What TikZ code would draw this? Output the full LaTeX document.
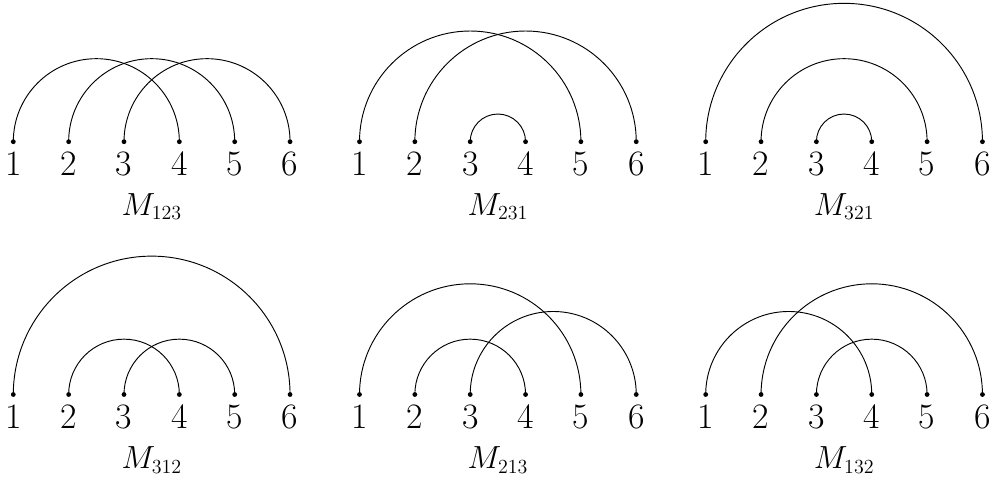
\RequirePackage{fix-cm}
\documentclass[tikz,border=0pt]{standalone}
\usetikzlibrary{calc}
\DeclareMathSizes{24}{24}{15}{12}
\newcommand\chordarc[2]{\draw[chord] let \p1=(#1.center),\p2=(#2.center) in (#1.center) arc[start angle=180,end angle=0,radius={0.5*(\x2-\x1)}];}
\begin{document}
\begin{tikzpicture}[x=0.75pt,y=0.75pt,
  dot/.style={circle,fill=black,inner sep=0pt,minimum size=3.6pt},
  num/.style={anchor=base,inner sep=0pt,font=\fontsize{26.8}{30}\selectfont},
  lab/.style={anchor=base,inner sep=0pt,font=\fontsize{24}{28}\selectfont},
  chord/.style={line width=0.7pt}]
\useasboundingbox (0,0) rectangle (993,-483);
\foreach \pn/\col/\row in {a/0/0, b/1/0, c/2/0, d/0/1, e/1/1, f/2/1} {
  \foreach \i in {1,...,6} {
    \node[dot] (\pn\i) at ({13.3+55.35*(\i-1)+346.2*\col}, {-141.7-252.8*\row}) {};
    \node[num] (\pn n\i) at ({13.3+55.35*(\i-1)+346.2*\col}, {-175-253*\row}) {\i};
  }
}
% M_123
\chordarc{a1}{a4}\chordarc{a2}{a5}\chordarc{a3}{a6}
% M_231
\chordarc{b1}{b5}\chordarc{b2}{b6}\chordarc{b3}{b4}
% M_321
\chordarc{c1}{c6}\chordarc{c2}{c5}\chordarc{c3}{c4}
% M_312
\chordarc{d1}{d6}\chordarc{d2}{d4}\chordarc{d3}{d5}
% M_213
\chordarc{e1}{e5}\chordarc{e2}{e4}\chordarc{e3}{e6}
% M_132
\chordarc{f1}{f4}\chordarc{f2}{f6}\chordarc{f3}{f5}
\node[lab] (la) at (151.7,-215) {$M_{123}$};
\node[lab] (lb) at (497.9,-215) {$M_{231}$};
\node[lab] (lc) at (844.1,-215) {$M_{321}$};
\node[lab] (ld) at (151.7,-468.5) {$M_{312}$};
\node[lab] (le) at (497.9,-468.5) {$M_{213}$};
\node[lab] (lf) at (844.1,-468.5) {$M_{132}$};
\end{tikzpicture}
\end{document}
